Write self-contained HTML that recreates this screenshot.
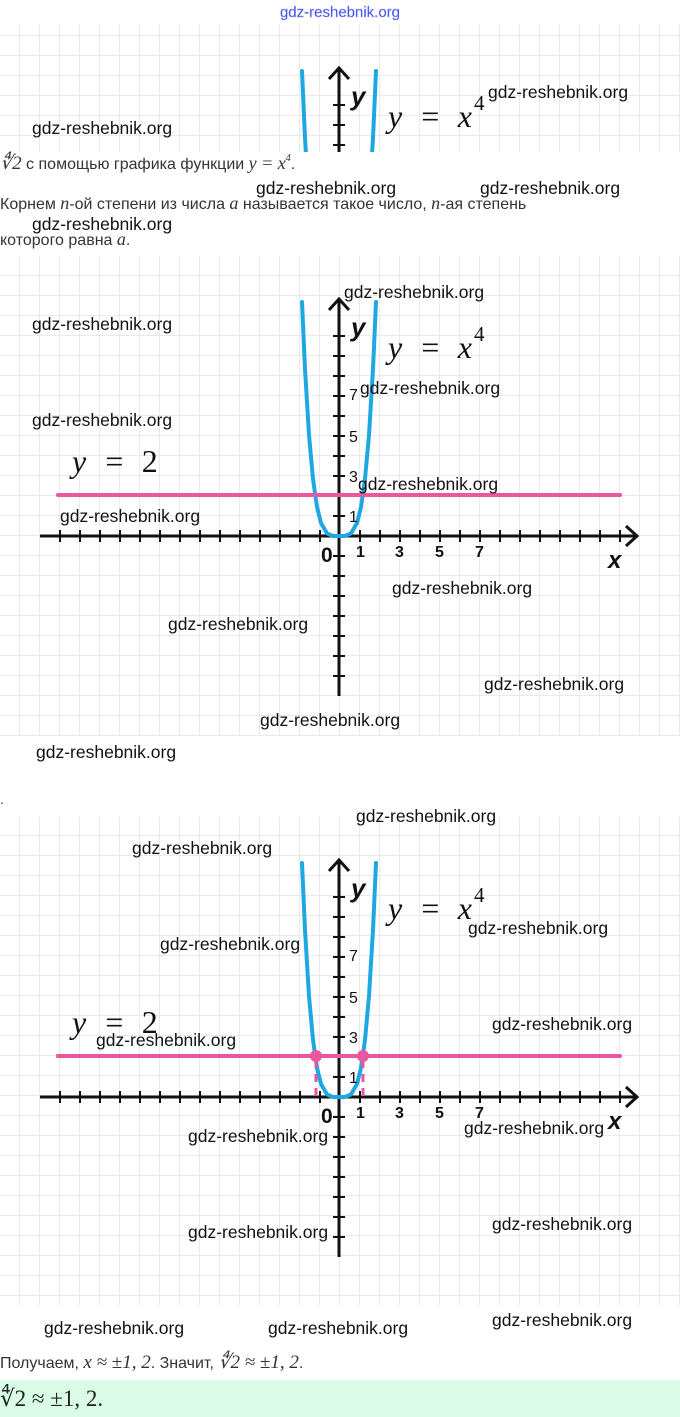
<!DOCTYPE html>
<html><head><meta charset="utf-8"><style>
body{margin:0;width:680px;height:1417px;background:#fff;overflow:hidden;position:relative;font-family:"Liberation Sans",sans-serif}
svg{position:absolute;left:0;top:0}
.wm{font-family:"Liberation Sans",sans-serif;font-size:17.5px;fill:#111}
.t{font-family:"Liberation Sans",sans-serif;font-size:16px;fill:#333}
.m{font-family:"Liberation Serif",serif;font-style:italic}
</style></head><body>
<svg width="680" height="1417" viewBox="0 0 680 1417">
<defs>
<pattern id="grid" width="20" height="20" patternUnits="userSpaceOnUse" x="0" y="16">
<path d="M20 0V20M0 20H20" fill="none" stroke="#e3e3e3" stroke-width="1.5"/>
</pattern>
<g id="graph">
<path d="M-299 0H297" stroke="#111" stroke-width="3"/>
<path d="M287 -10L298 0L287 10" fill="none" stroke="#111" stroke-width="3"/>
<path d="M0 160V-236" stroke="#111" stroke-width="3"/>
<path d="M-10 -226L0 -237L10 -226" fill="none" stroke="#111" stroke-width="3"/>
<path d="M-279 -6v12M-259 -6v12M-239 -6v12M-219 -6v12M-199 -6v12M-179 -6v12M-159 -6v12M-139 -6v12M-119 -6v12M-99 -6v12M-79 -6v12M-59 -6v12M-39 -6v12M-19 -6v12M21 -6v12M41 -6v12M61 -6v12M81 -6v12M101 -6v12M121 -6v12M141 -6v12M161 -6v12M181 -6v12M201 -6v12M221 -6v12M241 -6v12M261 -6v12M281 -6v12" stroke="#111" stroke-width="2"/>
<path d="M-6 -20h12M-6 -40h12M-6 -60h12M-6 -80h12M-6 -100h12M-6 -120h12M-6 -140h12M-6 -160h12M-6 -180h12M-6 -200h12M-6 20h12M-6 40h12M-6 60h12M-6 80h12M-6 100h12M-6 120h12M-6 140h12" stroke="#111" stroke-width="2"/>
<path d="M-37 -234L-34 -167L-30 -101L-26 -57L-22 -29L-18 -13L-12 -2.6L-6 0L0 0L6 0L12 -2.6L18 -13L22 -29L26 -57L30 -101L34 -167L37 -234" fill="none" stroke="#1ea7e1" stroke-width="4" stroke-linejoin="round" stroke-linecap="round"/>
<text x="-18" y="26" font-size="21" font-weight="bold" fill="#111">0</text>
<text x="17" y="21" font-size="16" font-weight="bold" fill="#111">1</text>
<text x="56" y="21" font-size="16" font-weight="bold" fill="#111">3</text>
<text x="96" y="21" font-size="16" font-weight="bold" fill="#111">5</text>
<text x="136" y="21" font-size="16" font-weight="bold" fill="#111">7</text>
<text x="10" y="-14" font-size="16" fill="#111">1</text>
<text x="10" y="-54" font-size="16" fill="#111">3</text>
<text x="10" y="-94" font-size="16" fill="#111">5</text>
<text x="10" y="-136" font-size="16" fill="#111">7</text>
<text x="12" y="-200" font-size="26" font-weight="bold" font-style="italic" fill="#111">y</text>
<text x="269" y="32" font-size="24" font-weight="bold" font-style="italic" fill="#111">x</text>
<text x="49" y="-178" font-size="32" class="m" fill="#111" word-spacing="9">y = x<tspan font-size="21" font-style="normal" dy="-17" dx="2">4</tspan></text>
</g>
<clipPath id="c1"><rect x="0" y="25" width="680" height="127"/></clipPath>
</defs>

<text x="340" y="17" text-anchor="middle" font-size="15" fill="#3344dd" stroke="#9aa0ff" stroke-width="0.4">gdz-reshebnik.org</text>

<rect x="0" y="25" width="680" height="127" fill="url(#grid)"/>
<g clip-path="url(#c1)"><use href="#graph" transform="translate(339,305)"/></g>
<text x="0" y="169" class="t"><tspan class="m" font-size="19" font-style="normal">∜2</tspan> с помощью графика функции <tspan class="m" font-size="18">y = x</tspan><tspan font-size="10" dy="-8" class="m">4</tspan><tspan dy="8">.</tspan></text>
<text x="0" y="209" class="t">Корнем <tspan class="m" font-size="18">n</tspan>-ой степени из числа <tspan class="m" font-size="18">a</tspan> называется такое число, <tspan class="m" font-size="18">n</tspan>-ая степень</text>
<text x="0" y="245" class="t">которого равна <tspan class="m" font-size="18">a</tspan>.</text>

<rect x="0" y="256" width="680" height="480" fill="url(#grid)"/>
<use href="#graph" transform="translate(339,536)"/>
<path d="M58 495H620" stroke="#e9579f" stroke-width="4" stroke-linecap="round"/>
<text x="72" y="472" font-size="32" class="m" fill="#111" word-spacing="9">y = <tspan font-style="normal">2</tspan></text>

<text x="0" y="804" font-size="14" fill="#333">.</text>

<rect x="0" y="817" width="680" height="488" fill="url(#grid)"/>
<use href="#graph" transform="translate(339,1097)"/>
<path d="M58 1056H620" stroke="#e9579f" stroke-width="4" stroke-linecap="round"/>
<path d="M316 1060V1097M363 1060V1097" stroke="#e9579f" stroke-width="3" stroke-dasharray="8 6"/>
<circle cx="316" cy="1056" r="6" fill="#e9579f"/>
<circle cx="363" cy="1056" r="6" fill="#e9579f"/>
<text x="72" y="1033" font-size="32" class="m" fill="#111" word-spacing="9">y = <tspan font-style="normal">2</tspan></text>

<text x="0" y="1368" class="t">Получаем, <tspan class="m" font-size="19">x ≈ ±1, 2</tspan>. Значит, <tspan class="m" font-size="19" font-style="normal">∜2 ≈ ±1, 2</tspan>.</text>
<rect x="0" y="1380" width="680" height="37" fill="#d9fbe7"/>
<text x="0" y="1406" font-size="23" font-family="Liberation Serif" fill="#222">∜2 ≈ ±1, 2.</text>

<g class="wm">
<text x="32" y="134">gdz-reshebnik.org</text>
<text x="488" y="98">gdz-reshebnik.org</text>
<text x="256" y="194">gdz-reshebnik.org</text>
<text x="480" y="194">gdz-reshebnik.org</text>
<text x="32" y="230">gdz-reshebnik.org</text>
<text x="344" y="298">gdz-reshebnik.org</text>
<text x="32" y="330">gdz-reshebnik.org</text>
<text x="360" y="394">gdz-reshebnik.org</text>
<text x="32" y="426">gdz-reshebnik.org</text>
<text x="358" y="490">gdz-reshebnik.org</text>
<text x="60" y="522">gdz-reshebnik.org</text>
<text x="392" y="594">gdz-reshebnik.org</text>
<text x="168" y="630">gdz-reshebnik.org</text>
<text x="484" y="690">gdz-reshebnik.org</text>
<text x="260" y="726">gdz-reshebnik.org</text>
<text x="36" y="758">gdz-reshebnik.org</text>
<text x="356" y="822">gdz-reshebnik.org</text>
<text x="132" y="854">gdz-reshebnik.org</text>
<text x="468" y="934">gdz-reshebnik.org</text>
<text x="160" y="950">gdz-reshebnik.org</text>
<text x="96" y="1046">gdz-reshebnik.org</text>
<text x="492" y="1030">gdz-reshebnik.org</text>
<text x="188" y="1142">gdz-reshebnik.org</text>
<text x="464" y="1134">gdz-reshebnik.org</text>
<text x="492" y="1230">gdz-reshebnik.org</text>
<text x="188" y="1238">gdz-reshebnik.org</text>
<text x="44" y="1334">gdz-reshebnik.org</text>
<text x="268" y="1334">gdz-reshebnik.org</text>
<text x="492" y="1326">gdz-reshebnik.org</text>
</g>
</svg>
</body></html>
